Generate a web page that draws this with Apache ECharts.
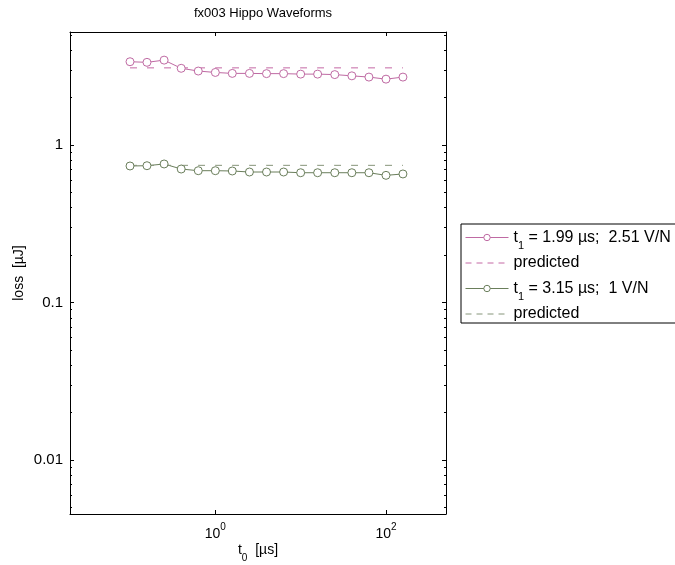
<!DOCTYPE html>
<html>
<head>
<meta charset="utf-8">
<script src="https://cdn.jsdelivr.net/npm/echarts@6/dist/echarts.min.js"></script>
<style>
  html, body { margin: 0; padding: 0; background: #fff; }
  #chart { width: 675px; height: 565px; }
</style>
</head>
<body>
<div id="chart"></div>
<script>
// Start times t0 [µs]
const t0 = [0.1, 0.158, 0.251, 0.398, 0.631, 1, 1.58, 2.51, 3.98, 6.31, 10, 15.8, 25.1, 39.8, 63.1, 100, 158];
// Measured loss [µJ], t1 = 1.99 µs, 2.51 V/N
const lossA = [3.38, 3.35, 3.46, 3.07, 2.95, 2.89, 2.85, 2.85, 2.84, 2.84, 2.82, 2.82, 2.80, 2.75, 2.70, 2.62, 2.70];
const predA = [3.09, 3.09, 3.09, 3.09, 3.09, 3.09, 3.09, 3.09, 3.09, 3.09, 3.09, 3.09, 3.09, 3.09, 3.09, 3.09, 3.09];
// Measured loss [µJ], t1 = 3.15 µs, 1 V/N
const lossB = [0.736, 0.739, 0.758, 0.704, 0.687, 0.687, 0.684, 0.674, 0.674, 0.674, 0.667, 0.667, 0.667, 0.667, 0.667, 0.642, 0.655];
const predB = [0.743, 0.743, 0.743, 0.743, 0.743, 0.743, 0.743, 0.743, 0.743, 0.743, 0.743, 0.743, 0.743, 0.743, 0.743, 0.743, 0.743];

const xTicks = [1, 100];
const yTicks = [0.01, 0.1, 1];
const yMinorTicks = [0.005, 0.006, 0.007, 0.008, 0.009, 0.02, 0.03, 0.04, 0.05, 0.06, 0.07, 0.08, 0.09,
                     0.2, 0.3, 0.4, 0.5, 0.6, 0.7, 0.8, 0.9, 2, 3, 4, 5];

const legendText = {
  measA: '{n|t}{sub|1}{n| = 1.99 µs;  2.51 V/N}',
  predA: '{n|predicted}',
  measB: '{n|t}{sub|1}{n| = 3.15 µs;  1 V/N}',
  predB: '{n|predicted}'
};

const FONT = 'Liberation Sans, Arial, sans-serif';
const pink = '#bf6aa3';
const pinkDash = '#c468a4';
const green = '#6a7e5b';
const greenDash = '#86957a';

const X_MIN = 0.0198, X_MAX = 505;
const Y_MIN = 0.00454, Y_MAX = 5.22;

const pair = (xs, ys) => xs.map((x, i) => [x, ys[i]]);

const baseX = {
  type: 'log', logBase: 10, min: X_MIN, max: X_MAX,
  axisLine: { show: true, onZero: false, lineStyle: { color: '#000', width: 1 } },
  splitLine: { show: false }, minorTick: { show: false }, minorSplitLine: { show: false }
};
const baseY = {
  type: 'log', logBase: 10, min: Y_MIN, max: Y_MAX,
  axisLine: { show: true, onZero: false, lineStyle: { color: '#000', width: 1 } },
  splitLine: { show: false }, minorTick: { show: false }, minorSplitLine: { show: false }
};

// Sub/superscripts: top (or bottom) padding on a middle-aligned token shifts its glyphs by half the padding
const legendRich = {
  n: { fontFamily: FONT, fontSize: 16, color: '#000', lineHeight: 20 },
  sub: { fontFamily: FONT, fontSize: 11, color: '#000', lineHeight: 11, padding: [16, 0, 0, 0] }
};

const chart = echarts.init(document.getElementById('chart'), null, { renderer: 'canvas' });

chart.setOption({
  backgroundColor: '#fff',
  animation: false,
  title: {
    text: 'fx003 Hippo Waveforms',
    left: 258, top: 2, textAlign: 'center',
    textStyle: { fontFamily: FONT, fontSize: 13, fontWeight: 'normal', color: '#000' }
  },
  grid: { left: 70, top: 32, width: 376, height: 482, containLabel: false, outerBoundsMode: 'none' },
  xAxis: [
    Object.assign({}, baseX, {
      position: 'bottom',
      name: '{n|t}{sub|0}{n|  [µs]}',
      nameLocation: 'middle', nameGap: 28, nameMoveOverlap: false,
      nameTextStyle: {
        rich: {
          n: { fontFamily: FONT, fontSize: 14, color: '#000', lineHeight: 16 },
          sub: { fontFamily: FONT, fontSize: 10, color: '#000', lineHeight: 10, padding: [16, 0, 0, 0] }
        }
      },
      axisTick: { show: true, inside: true, length: 4, customValues: xTicks, lineStyle: { color: '#000' } },
      axisLabel: {
        show: true, margin: 11, customValues: xTicks,
        formatter: v => '{b|10}{s|' + Math.round(Math.log10(v)) + '}',
        rich: {
          b: { fontFamily: FONT, fontSize: 14, color: '#000', lineHeight: 18 },
          s: { fontFamily: FONT, fontSize: 10, color: '#000', lineHeight: 10, padding: [0, 0, 13, 0] }
        }
      }
    }),
    Object.assign({}, baseX, {
      position: 'top',
      axisTick: { show: true, inside: true, length: 4, customValues: xTicks, lineStyle: { color: '#000' } },
      axisLabel: { show: false }
    })
  ],
  yAxis: [
    Object.assign({}, baseY, {
      position: 'left',
      name: 'loss  [µJ]',
      nameLocation: 'middle', nameGap: 44, nameRotate: 90, nameMoveOverlap: false,
      nameTextStyle: { fontFamily: FONT, fontSize: 14, color: '#000' },
      axisTick: { show: true, inside: true, length: 4, customValues: yTicks, lineStyle: { color: '#000' } },
      axisLabel: {
        show: true, margin: 7, customValues: yTicks,
        formatter: v => String(v),
        fontFamily: FONT, fontSize: 15, color: '#000'
      }
    }),
    Object.assign({}, baseY, {
      position: 'right',
      axisTick: { show: true, inside: true, length: 4, customValues: yTicks, lineStyle: { color: '#000' } },
      axisLabel: { show: false }
    }),
    Object.assign({}, baseY, {
      position: 'left',
      axisLine: { show: false },
      axisTick: { show: true, inside: true, length: 2, customValues: yMinorTicks, lineStyle: { color: '#000' } },
      axisLabel: { show: false }
    }),
    Object.assign({}, baseY, {
      position: 'right',
      axisLine: { show: false },
      axisTick: { show: true, inside: true, length: 2, customValues: yMinorTicks, lineStyle: { color: '#000' } },
      axisLabel: { show: false }
    })
  ],
  legend: {
    orient: 'vertical',
    left: 461, top: 224,
    padding: [0, 6, 1, 4],
    itemGap: 4,
    itemWidth: 43, itemHeight: 8,
    backgroundColor: '#fff',
    borderColor: '#000', borderWidth: 1,
    data: [
      { name: 'measA', lineStyle: { color: pink, width: 1 }, itemStyle: { color: '#fff', borderColor: pink, borderWidth: 1 } },
      { name: 'predA', lineStyle: { color: pinkDash, width: 1, type: [6, 5] }, itemStyle: { opacity: 0 } },
      { name: 'measB', lineStyle: { color: green, width: 1 }, itemStyle: { color: '#fff', borderColor: green, borderWidth: 1 } },
      { name: 'predB', lineStyle: { color: greenDash, width: 1, type: [6, 5] }, itemStyle: { opacity: 0 } }
    ],
    formatter: name => legendText[name],
    textStyle: { rich: legendRich }
  },
  series: [
    {
      name: 'measA', type: 'line', data: pair(t0, lossA),
      symbol: 'circle', symbolSize: 8,
      lineStyle: { color: pink, width: 1 },
      itemStyle: { color: '#fff', borderColor: pink, borderWidth: 1 }
    },
    {
      name: 'predA', type: 'line', data: pair(t0, predA), symbol: 'none',
      lineStyle: { color: pinkDash, width: 1, type: [7, 10] },
      itemStyle: { color: pinkDash }
    },
    {
      name: 'measB', type: 'line', data: pair(t0, lossB),
      symbol: 'circle', symbolSize: 8,
      lineStyle: { color: green, width: 1 },
      itemStyle: { color: '#fff', borderColor: green, borderWidth: 1 }
    },
    {
      name: 'predB', type: 'line', data: pair(t0, predB), symbol: 'none',
      lineStyle: { color: greenDash, width: 1, type: [7, 10] },
      itemStyle: { color: greenDash }
    }
  ]
});
</script>
</body>
</html>
